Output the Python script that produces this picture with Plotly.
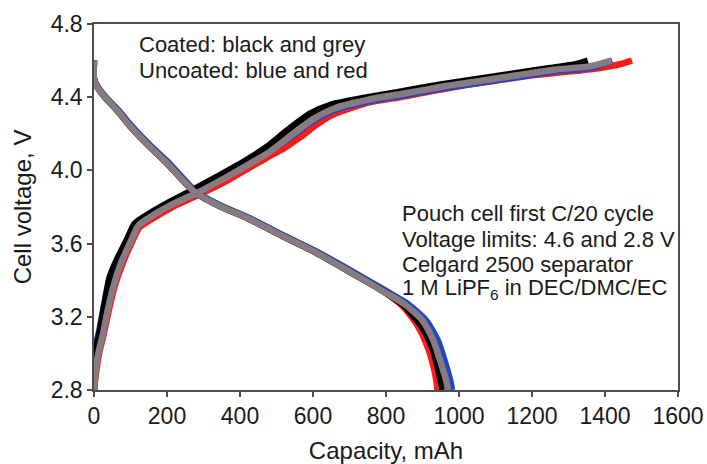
import plotly.graph_objects as go

# First C/20 charge/discharge cycle of four pouch cells (capacity in mAh, voltage in V)
# Coated cells: black and grey; uncoated cells: blue and red

black_chg_cap = [0, 3, 8, 16, 30, 44, 65, 90, 112, 140, 200, 277, 350, 420, 474, 530, 592, 650, 750, 838, 950, 1050, 1150, 1250, 1320, 1353]
black_chg_v = [2.80, 2.98, 3.05, 3.12, 3.28, 3.42, 3.52, 3.62, 3.71, 3.75, 3.82, 3.90, 3.98, 4.06, 4.13, 4.22, 4.31, 4.36, 4.40, 4.43, 4.47, 4.50, 4.53, 4.56, 4.58, 4.60]

grey_chg_cap = [0, 5, 14, 24, 38, 55, 75, 100, 122, 150, 210, 285, 360, 430, 480, 540, 600, 660, 760, 850, 960, 1060, 1160, 1260, 1360, 1418]
grey_chg_v = [2.80, 2.92, 3.02, 3.10, 3.24, 3.38, 3.50, 3.61, 3.70, 3.74, 3.81, 3.88, 3.96, 4.04, 4.10, 4.19, 4.28, 4.34, 4.39, 4.42, 4.46, 4.49, 4.52, 4.55, 4.57, 4.60]

blue_chg_cap = [0, 2, 6, 14, 28, 42, 62, 88, 110, 140, 205, 282, 355, 425, 478, 538, 600, 660, 760, 850, 960, 1060, 1160, 1260, 1360, 1420]
blue_chg_v = [2.80, 2.97, 3.05, 3.12, 3.27, 3.41, 3.51, 3.61, 3.70, 3.74, 3.81, 3.88, 3.96, 4.04, 4.10, 4.18, 4.27, 4.33, 4.38, 4.41, 4.45, 4.48, 4.51, 4.54, 4.56, 4.60]

red_chg_cap = [0, 6, 15, 25, 40, 57, 78, 102, 125, 155, 215, 290, 370, 474, 520, 564, 610, 650, 750, 838, 1000, 1100, 1200, 1300, 1386, 1440, 1474]
red_chg_v = [2.80, 2.90, 3.01, 3.09, 3.23, 3.37, 3.49, 3.60, 3.69, 3.73, 3.80, 3.87, 3.95, 4.07, 4.12, 4.18, 4.25, 4.30, 4.37, 4.40, 4.46, 4.49, 4.52, 4.54, 4.56, 4.58, 4.60]

black_dis_cap = [0, 0, 8, 30, 63, 100, 153, 200, 277, 350, 420, 518, 600, 680, 750, 800, 850, 900, 925, 940, 950, 955]
black_dis_v = [4.60, 4.50, 4.46, 4.40, 4.33, 4.24, 4.13, 4.04, 3.88, 3.80, 3.74, 3.64, 3.56, 3.47, 3.39, 3.33, 3.26, 3.14, 3.04, 2.94, 2.85, 2.80]

grey_dis_cap = [0, 0, 8, 30, 63, 100, 153, 200, 277, 350, 420, 518, 600, 680, 750, 800, 850, 900, 930, 950, 965, 970]
grey_dis_v = [4.60, 4.50, 4.46, 4.40, 4.33, 4.24, 4.13, 4.04, 3.88, 3.80, 3.74, 3.64, 3.56, 3.47, 3.39, 3.33, 3.27, 3.18, 3.07, 2.95, 2.85, 2.80]

blue_dis_cap = [0, 0, 9, 32, 66, 104, 157, 205, 282, 355, 425, 524, 606, 688, 758, 810, 860, 910, 942, 962, 976, 981]
blue_dis_v = [4.60, 4.50, 4.46, 4.40, 4.33, 4.24, 4.13, 4.04, 3.88, 3.80, 3.74, 3.64, 3.56, 3.47, 3.39, 3.33, 3.27, 3.18, 3.07, 2.95, 2.85, 2.80]

red_dis_cap = [0, 0, 8, 30, 63, 100, 153, 200, 277, 350, 420, 518, 600, 680, 750, 800, 850, 890, 915, 930, 938, 941]
red_dis_v = [4.60, 4.50, 4.46, 4.40, 4.33, 4.24, 4.13, 4.04, 3.88, 3.80, 3.74, 3.64, 3.56, 3.47, 3.39, 3.33, 3.25, 3.14, 3.03, 2.93, 2.85, 2.80]

x_ticks = [0, 200, 400, 600, 800, 1000, 1200, 1400, 1600]
y_ticks = [2.8, 3.2, 3.6, 4.0, 4.4, 4.8]

legend_lines = ["Coated: black and grey", "Uncoated: blue and red"]
condition_lines = [
    "Pouch cell first C/20 cycle",
    "Voltage limits: 4.6 and 2.8 V",
    "Celgard 2500 separator",
    "1 M LiPF<sub>6</sub> in DEC/DMC/EC",
]

series = [
    ("Uncoated (red)", "#ff1a1a", red_chg_cap, red_chg_v, red_dis_cap, red_dis_v),
    ("Uncoated (blue)", "#2446c4", blue_chg_cap, blue_chg_v, blue_dis_cap, blue_dis_v),
    ("Coated (black)", "#000000", black_chg_cap, black_chg_v, black_dis_cap, black_dis_v),
    ("Coated (grey)", "#857b80", grey_chg_cap, grey_chg_v, grey_dis_cap, grey_dis_v),
]

fig = go.Figure()
for name, color, cc, cv, dc, dv in series:
    for xs, ys in ((cc, cv), (dc, dv)):
        fig.add_trace(go.Scatter(
            x=xs, y=ys, mode="lines", name=name, showlegend=False,
            line=dict(color=color, width=6.5, shape="spline", smoothing=0.6),
        ))

font_family = "Liberation Sans, Arial, sans-serif"
axis_style = dict(
    showgrid=False, zeroline=False, showline=True, linecolor="#4d4d4d", linewidth=1.5,
    mirror=True, ticks="outside", ticklen=5, tickcolor="#4d4d4d", tickwidth=1.5,
    tickfont=dict(family=font_family, size=23, color="#1a1a1a"), automargin=False,
)

fig.update_layout(
    width=707, height=464,
    margin=dict(l=94, r=29, t=24, b=74),
    paper_bgcolor="white", plot_bgcolor="white",
    font=dict(family=font_family, color="#1a1a1a"),
    xaxis=dict(range=[0, 1600], tickvals=x_ticks, ticktext=[str(v) for v in x_ticks],
               title=dict(text="Capacity, mAh", font=dict(size=24), standoff=16), **axis_style),
    yaxis=dict(range=[2.8, 4.8], tickvals=y_ticks, ticktext=[f"{v:.1f}" for v in y_ticks],
               title=dict(text="Cell voltage, V", font=dict(size=24), standoff=12), **axis_style),
)

# Text blocks, one annotation per line for tight line spacing
for i, line in enumerate(legend_lines):
    fig.add_annotation(
        xref="paper", yref="paper", x=0.074, y=0.943 - i * 0.069,
        xanchor="left", yanchor="middle", text=line, showarrow=False,
        font=dict(family=font_family, size=22, color="#1a1a1a"),
    )
for i, line in enumerate(condition_lines):
    fig.add_annotation(
        xref="paper", yref="paper", x=0.524, y=0.481 - i * 0.0685,
        xanchor="left", yanchor="middle", text=line, showarrow=False,
        font=dict(family=font_family, size=22, color="#1a1a1a"),
    )

fig.write_html("out.html")
